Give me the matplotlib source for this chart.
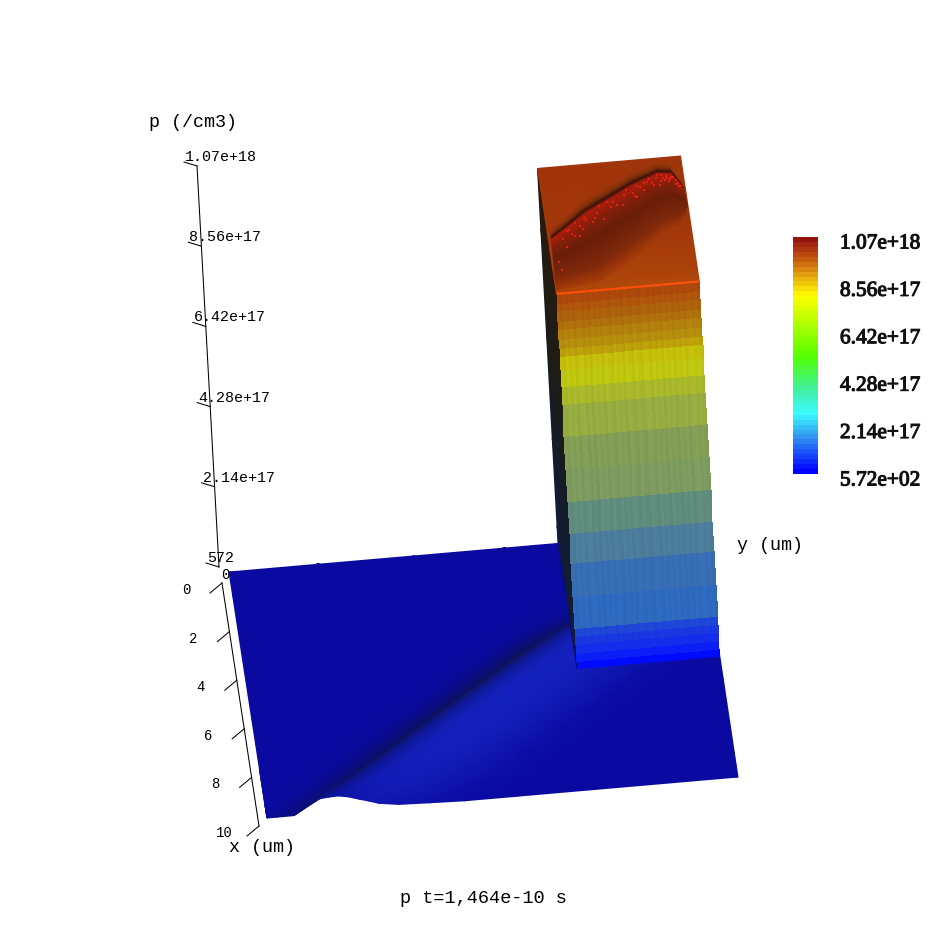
import numpy as np
import matplotlib
matplotlib.use("Agg")
import matplotlib.pyplot as plt
from matplotlib.colors import LinearSegmentedColormap, Normalize
from matplotlib.cm import ScalarMappable
import matplotlib.patheffects as pe

# ---------- values ----------
P_MAX = 1.07e18
p_tick_values = [572, 2.14e17, 4.28e17, 6.42e17, 8.56e17, 1.07e18]
p_tick_labels = ["572", "2.14e+17", "4.28e+17", "6.42e+17", "8.56e+17", "1.07e+18"]
x_tick_values = [0, 2, 4, 6, 8, 10]
y_tick_values = [0, 2, 4, 6, 8, 10]
cbar_labels = ["5.72e+02", "2.14e+17", "4.28e+17", "6.42e+17", "8.56e+17", "1.07e+18"]
cbar_stops = [0.0, 0.15, 0.25, 0.346, 0.49, 0.755, 0.84, 0.91, 1.0]
cbar_rgb = [(0, 0, 255), (50, 150, 240), (60, 250, 255), (65, 240, 170), (80, 255, 0),
            (255, 255, 0), (230, 170, 15), (200, 95, 15), (150, 20, 15)]

# floor: position of the dark line of the ridge (y, um) for each x station (um)
floor_x = [0, 1, 2, 3, 3.5, 4, 5, 6, 7, 8, 9, 9.5, 10]
floor_ridge_y = [9.5, 9.3, 8.2, 7.25, 6.8, 6.3, 5.4, 4.5, 3.6, 2.7, 1.8, 1.3, 0.8]
floor_strength = [0, 0, 0.05, 0.4, 0.75, 0.95, 1, 1, 1, 0.95, 0.85, 0.75, 0.55]
floor_lift = [0, 0, 0.05, 0.3, 0.5, 0.7, 0.85, 0.95, 1, 1, 1, 1, 1]
# cross section of the ridge, offset in y (um) from the dark line
floor_offset = [-14, -3, -1.4, -0.9, -0.6, -0.23, -0.01, 0.14, 0.31, 0.52, 0.73, 0.94, 1.16, 1.37, 1.58,
                2.0, 2.65, 3.4, 4.4, 14]
floor_height = [0, 0, 0, 0, 0, 0, 2.0e16, 3.1e16, 4.1e16, 4.4e16, 4.5e16, 4.0e16, 3.1e16, 2.3e16, 1.4e16,
                0.6e16, 0.3e16, 0, 0, 0]
floor_rgb = [(10, 10, 160), (10, 10, 160), (10, 10, 160), (10, 10, 150), (10, 12, 130), (12, 17, 98),
             (13, 20, 88), (13, 21, 95), (14, 22, 115), (15, 25, 145), (17, 28, 168), (19, 31, 182),
             (20, 32, 190), (20, 32, 190), (20, 31, 187), (18, 28, 182), (15, 22, 175), (11, 13, 165),
             (10, 10, 160), (10, 10, 160)]

# wall
WALL_X = 5.1
WALL_Y = 6.97
wall_streak = [1.00, 0.98, 1.02, 0.99, 1.02, 0.98, 1.01, 1.02, 0.98, 1.01, 0.97, 1.02, 0.99, 1.01, 0.98, 1.02,
               1.00, 0.98, 1.02, 0.99, 1.01, 0.98, 1.02, 1.00, 0.98, 1.02, 0.99, 0.98, 1.02, 1.01, 0.98, 1.02,
               0.99, 1.01, 0.98, 1.02, 0.99, 1.01, 0.98, 1.01, 0.99, 1.02, 0.98, 1.01, 1.02, 0.99, 1.01, 0.99]
wall_p_levels = [0, 0.2e17, 0.43e17, 0.68e17, 0.91e17, 1.14e17, 2.05e17, 3.0e17, 3.85e17, 4.76e17,
                 5.68e17, 6.62e17, 7.53e17, 8.03e17, 8.53e17, 8.90e17, 9.13e17, 9.39e17, 9.67e17, 9.90e17,
                 10.19e17, 10.41e17, 10.7e17]
wall_rgb = [(0, 10, 255), (10, 30, 245), (20, 45, 235), (25, 55, 225), (30, 70, 215), (45, 105, 190),
            (55, 110, 180), (75, 125, 155), (95, 140, 125), (125, 155, 95), (130, 158, 85), (150, 172, 65),
            (168, 184, 42), (190, 198, 15), (196, 190, 10), (188, 160, 10), (180, 142, 12), (178, 128, 12),
            (175, 112, 12), (172, 98, 12), (175, 85, 10), (172, 72, 10)]
side_p_levels = [0, 0.5e17, 3e17, 6e17, 9e17, 10.7e17]
side_rgb = [(10, 15, 110), (18, 28, 55), (20, 28, 45), (28, 28, 25), (35, 28, 18), (42, 25, 12)]

# top of the wall
top_x = [0, 2.5, 4.6, 5.1]
top_y = [6.97, 8.5, 10]
top_rgb = [[(160, 52, 10), (160, 52, 10), (160, 52, 10)],
           [(162, 56, 10), (160, 54, 10), (160, 52, 10)],
           [(168, 64, 10), (172, 68, 10), (170, 66, 10)],
           [(176, 72, 10), (178, 74, 10), (178, 74, 10)]]
# hollow on the top of the wall: its upper and lower rim (x, y in um)
hollow_upper_x = [2.82, 1.83, 0.89, 0.53, 0.58, 1.24, 1.92]
hollow_upper_y = [7.04, 7.85, 8.91, 9.46, 9.74, 9.95, 9.98]
hollow_lower_x = [4.60, 4.23, 3.27, 2.66, 2.50, 2.29, 2.10]
hollow_lower_y = [6.99, 7.95, 8.88, 9.43, 9.74, 9.93, 9.98]
hollow_across = [-0.16, -0.07, -0.02, 0.0, 0.05, 0.12, 0.25, 0.5, 0.75, 0.95, 1.06, 1.2]
hollow_rgb = [(160, 53, 10), (128, 48, 10), (85, 30, 10), (55, 20, 10), (165, 28, 12), (160, 30, 12),
              (130, 32, 10), (105, 30, 10), (118, 36, 10), (130, 42, 10), (148, 50, 10), (165, 60, 10)]
speck_along = [0.05, 0.08, 0.10, 0.13, 0.15, 0.18, 0.2, 0.24, 0.27, 0.3, 0.33, 0.36, 0.4, 0.43, 0.46,
               0.5, 0.53, 0.56, 0.6, 0.63, 0.66, 0.7, 0.73, 0.76, 0.8, 0.06, 0.12, 0.22, 0.35, 0.52, 0.02, 0.03,
               0.07, 0.11, 0.16, 0.21, 0.26, 0.31, 0.38, 0.44, 0.49, 0.55, 0.61, 0.68, 0.74, 0.78, 0.09, 0.14,
               0.19, 0.25, 0.29, 0.34, 0.41, 0.47, 0.58, 0.65]
speck_across = [0.20, 0.12, 0.28, 0.18, 0.10, 0.24, 0.14, 0.08, 0.20, 0.12, 0.17, 0.09, 0.22, 0.11, 0.16,
                0.08, 0.19, 0.13, 0.09, 0.2, 0.12, 0.07, 0.17, 0.1, 0.08, 0.4, 0.33, 0.3, 0.27, 0.26, 0.6, 0.8,
                0.1, 0.07, 0.15, 0.06, 0.13, 0.07, 0.14, 0.07, 0.12, 0.07, 0.14, 0.1, 0.06, 0.13, 0.22, 0.26,
                0.2, 0.18, 0.27, 0.24, 0.1, 0.21, 0.17, 0.16]

# ---------- figure ----------
fig = plt.figure(figsize=(9.47, 9.47), dpi=100, facecolor="white")
ax = fig.add_axes([0, 0, 1, 1])
ax.set_axis_off()

BL, FL, FR, BR = (229, 572), (267, 818), (738, 777), (701, 531)
HX, HY = -20.5, -375.0


def project(x, y, p=0.0):
    """um / cm-3 to picture position."""
    u, v = np.asarray(x, float) / 10.0, np.asarray(y, float) / 10.0
    px = (1-u)*(1-v)*BL[0] + u*(1-v)*FL[0] + u*v*FR[0] + (1-u)*v*BR[0]
    py = (1-u)*(1-v)*BL[1] + u*(1-v)*FL[1] + u*v*FR[1] + (1-u)*v*BR[1]
    h = np.asarray(p, float) / P_MAX
    return px + HX*h, py + HY*h


def rgb(a):
    return np.asarray(a, float) / 255.0


# floor
fx = np.asarray(floor_x, float)
off = np.asarray(floor_offset, float)
strength = np.asarray(floor_strength)[:, None]
lift = np.asarray(floor_lift)[:, None]
Fx = np.repeat(fx[:, None], len(off), axis=1)
Fy = np.clip(np.asarray(floor_ridge_y)[:, None] + off[None, :], 0, 10)
Fp = lift * np.asarray(floor_height)[None, :]
base = rgb(floor_rgb[0])
Fc = base[None, None, :] + strength[:, :, None] * (rgb(floor_rgb)[None, :, :] - base[None, None, :])
X, Y = project(Fx, Fy, Fp)
ax.pcolormesh(X, Y, Fc, shading="gouraud", zorder=2)

# dark side of the wall
Sx, Sp = np.meshgrid([0, WALL_X], side_p_levels, indexing="ij")
X, Y = project(Sx, np.full_like(Sx, WALL_Y), Sp)
ax.pcolormesh(X, Y, np.stack([rgb(side_rgb)] * 2), shading="gouraud", zorder=3)

# top of the wall
Tx, Ty = np.meshgrid(top_x, top_y, indexing="ij")
X, Y = project(Tx, Ty, np.full_like(Tx, P_MAX))
ax.pcolormesh(X, Y, rgb(top_rgb), shading="gouraud", zorder=4)

# hollow
ux, uy, lx, ly = map(np.asarray, (hollow_upper_x, hollow_upper_y, hollow_lower_x, hollow_lower_y))
acr = np.asarray(hollow_across)[None, :]
Hx = np.clip(ux[:, None] + (lx - ux)[:, None] * acr, 0, WALL_X)
Hy = np.clip(uy[:, None] + (ly - uy)[:, None] * acr, WALL_Y, 10)
X, Y = project(Hx, Hy, np.full_like(Hx, P_MAX))
ax.pcolormesh(X, Y, np.repeat(rgb(hollow_rgb)[None, :, :], len(ux), axis=0), shading="gouraud", zorder=5)
tt = np.linspace(0, 1, len(ux))
sa, sc = np.asarray(speck_along), np.asarray(speck_across)
sux, suy, slx, sly = (np.interp(sa, tt, a) for a in (ux, uy, lx, ly))
X, Y = project(sux + (slx - sux) * sc, suy + (sly - suy) * sc, np.full_like(sa, P_MAX))
ax.scatter(X, Y, s=2.2, marker="s", color=rgb((230, 30, 20)), linewidths=0, zorder=6)

# front of the wall, in flat bands with fine vertical streaks
streak = np.asarray(wall_streak)
wall_y_nodes = np.linspace(WALL_Y, 10, len(streak) + 1)
Wy, Wp = np.meshgrid(wall_y_nodes, wall_p_levels, indexing="ij")
X, Y = project(np.full_like(Wy, WALL_X), Wy, Wp)
Wc = np.clip(rgb(wall_rgb)[None, :, :] * streak[:, None, None], 0, 1)
Wc[:, :3, :] = rgb(wall_rgb)[:3]
ax.pcolormesh(X, Y, Wc, shading="flat", zorder=7)
X, Y = project([WALL_X, WALL_X], [WALL_Y, 10], [P_MAX, P_MAX])
ax.plot(X, Y, color=rgb((255, 80, 10)), lw=1.5, zorder=8, solid_capstyle="butt")

# axes: p
p_base = np.array([219.0, 567.0])
p_vec = np.array([-22.0, -401.0])
mono = "Liberation Mono"
ends = [p_base + p_vec * v / P_MAX for v in (0, P_MAX)]
ax.plot([e[0] for e in ends], [e[1] for e in ends], color="black", lw=0.75, zorder=1)
for v, lab in zip(p_tick_values, p_tick_labels):
    t = p_base + p_vec * v / P_MAX
    ax.plot([t[0], t[0] - 13], [t[1], t[1] - 4], color="black", lw=0.75, zorder=1)
    ax.text(t[0] - 12, t[1] - 9, lab, fontsize=10.8, family=mono, ha="left", va="center", zorder=1)
# axes: x
x_base = np.array([222.0, 583.0])
x_vec = np.array([3.7, 24.3])
ends = [x_base + x_vec * v for v in (0, 10)]
ax.plot([e[0] for e in ends], [e[1] for e in ends], color="black", lw=0.75, zorder=1)
for v in x_tick_values:
    t = x_base + x_vec * v
    ax.plot([t[0], t[0] - 12], [t[1], t[1] + 10], color="black", lw=0.75, zorder=1)
    ax.text(t[0] - 36 + (1 if v == 10 else 0), t[1] + 7, str(v), fontsize=10.0, family=mono,
            ha="center", va="center", zorder=1)
# axes: y, mostly behind the surface
y_base = np.array([225.0, 575.0])
y_vec = np.array([46.5, -4.0])
for v in y_tick_values:
    t = y_base + y_vec * v
    ax.text(t[0], t[1] + (0 if v == 0 else 2), str(v), fontsize=10.0, family=mono,
            ha="center", va="center", zorder=1)

ax.text(149, 122, "p (/cm3)", fontsize=13.2, family=mono, ha="left", va="center")
ax.text(737, 545, "y (um)", fontsize=13.2, family=mono, ha="left", va="center")
ax.text(229, 847, "x (um)", fontsize=13.2, family=mono, ha="left", va="center")
ax.text(400, 898, "p t=1,464e-10 s", fontsize=13.4, family=mono, ha="left", va="center")

ax.set_xlim(0, 947)
ax.set_ylim(947, 0)

# colour bar
cmap = LinearSegmentedColormap.from_list("p", [(s, rgb(c)) for s, c in zip(cbar_stops, cbar_rgb)], N=48)
cax = fig.add_axes([793 / 947, (947 - 474) / 947, 25 / 947, 237 / 947])
cb = fig.colorbar(ScalarMappable(Normalize(0, P_MAX), cmap), cax=cax, ticks=[])
cb.outline.set_visible(False)
for v, lab in zip(p_tick_values, cbar_labels):
    t = cax.annotate(lab, xy=(1, v), xycoords=("axes fraction", "data"), xytext=(15.8, -5.0),
                     textcoords="offset points", fontsize=15.4, family="Liberation Serif",
                     ha="left", va="center", color="#111111", annotation_clip=False)
    t.set_path_effects([pe.withStroke(linewidth=0.8, foreground="#111111")])

fig.savefig("out.png", dpi=100, facecolor="white")
